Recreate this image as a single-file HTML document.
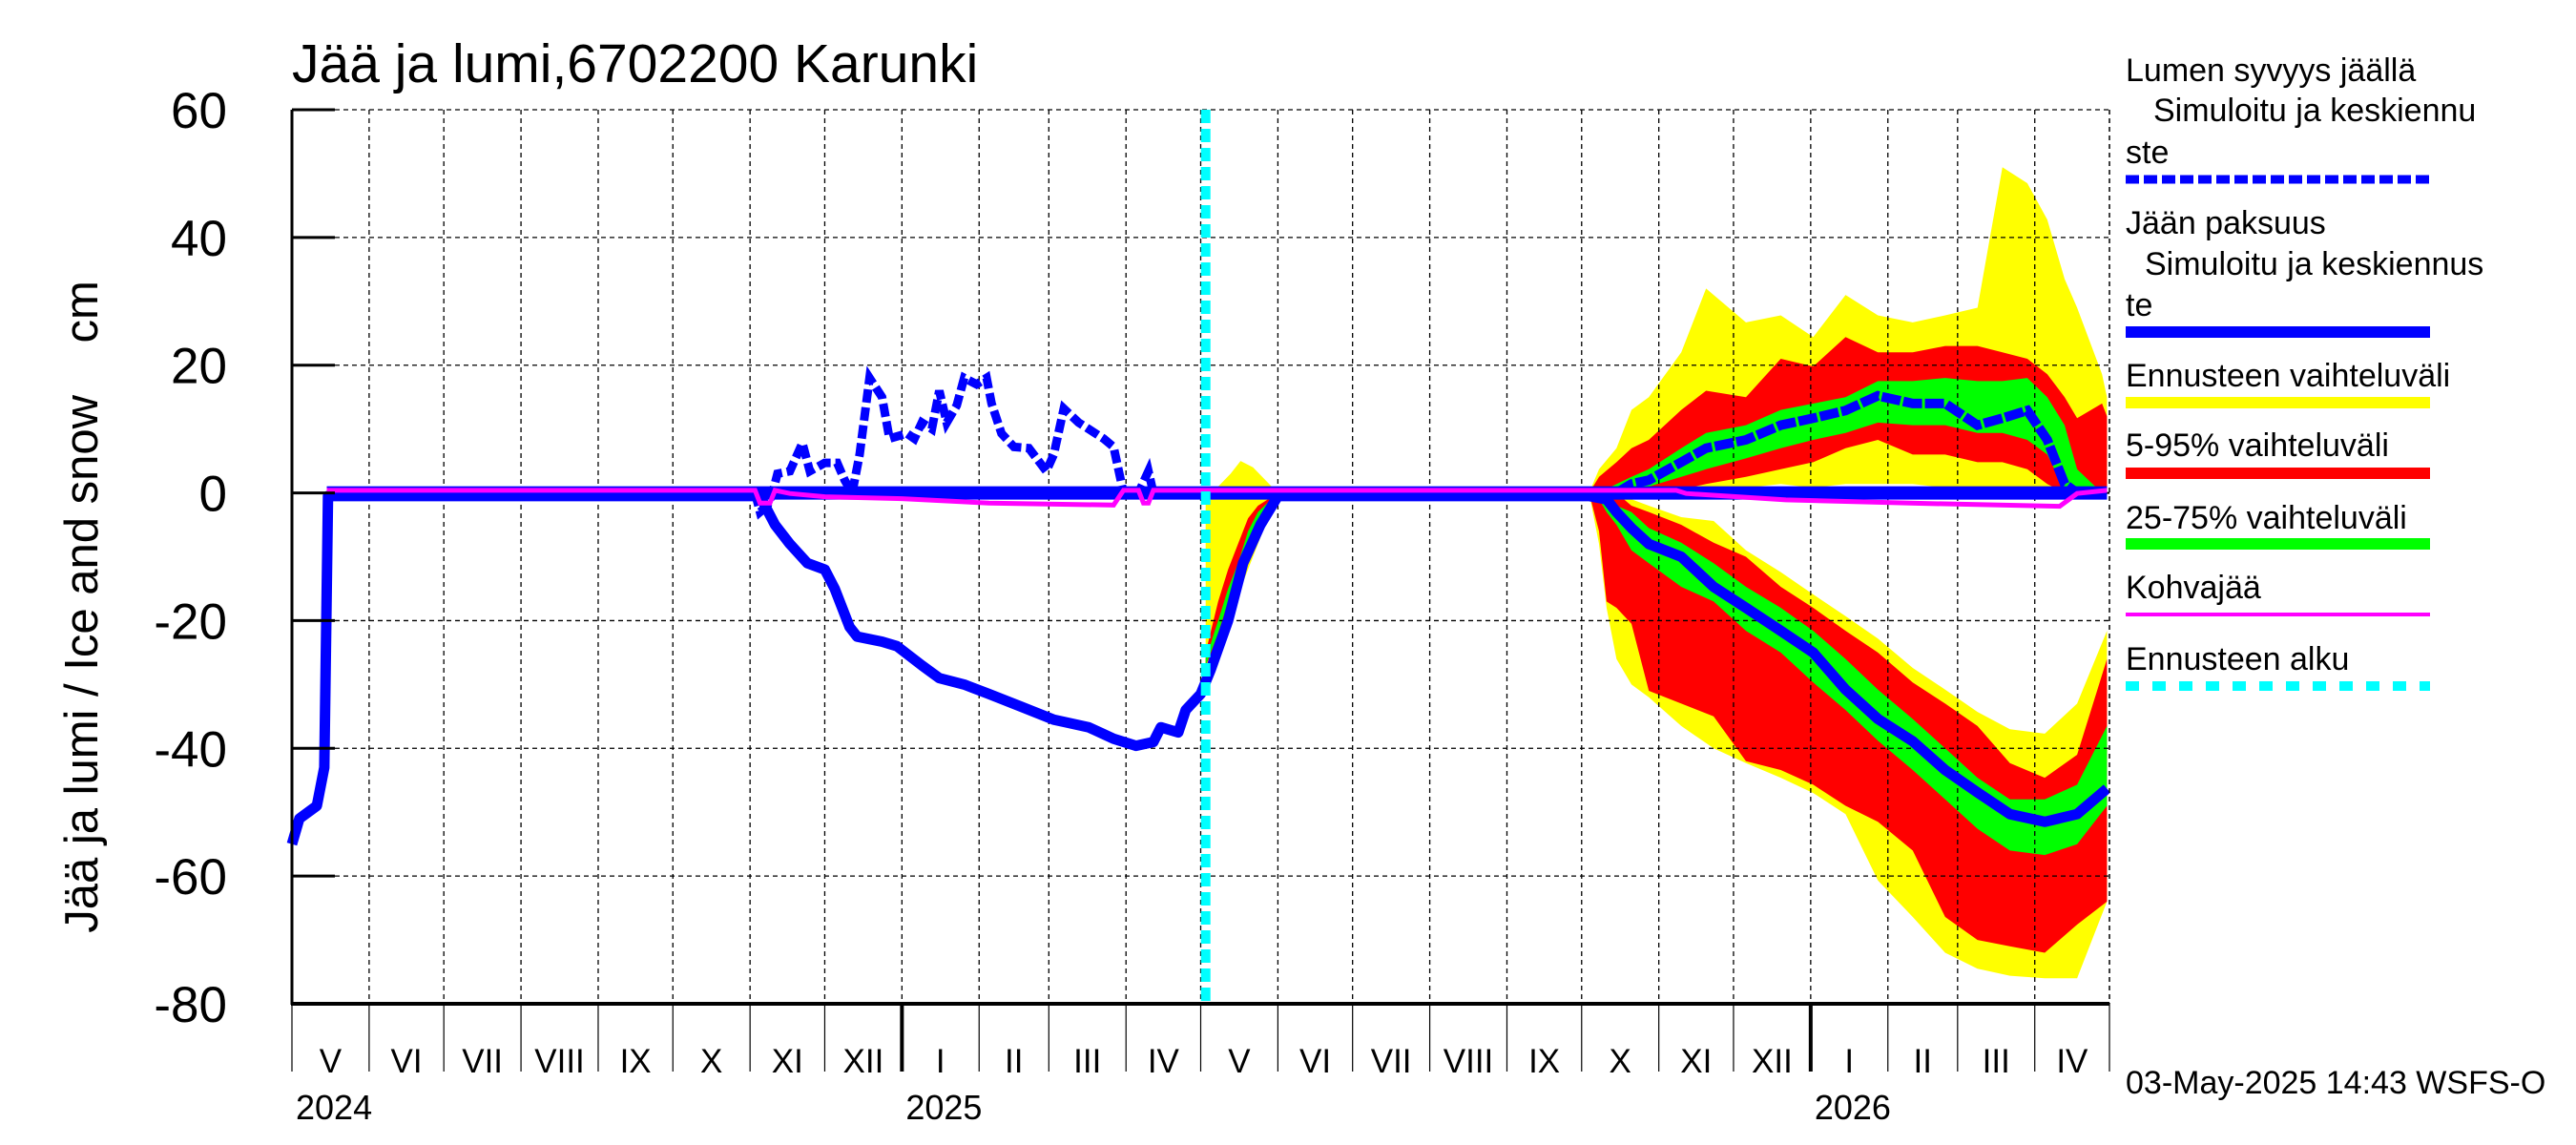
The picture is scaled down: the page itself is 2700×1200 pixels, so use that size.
<!DOCTYPE html>
<html><head><meta charset="utf-8"><style>
html,body{margin:0;padding:0;background:#fff;}
svg{display:block;font-family:"Liberation Sans",sans-serif;}
</style></head><body>
<svg id="chart" width="2700" height="1200" viewBox="0 0 2700 1200">
<g id="bands"></g><g id="grid"></g><g id="lines"></g><g id="axes"></g><g id="legend"></g>
</svg>
<script>
const monthDays=[0,31,61,92,123,153,184,214,245,276,304,335,365,396,426,457,488,518,549,579,610,641,669,700,730];
const monthLabels=["V","VI","VII","VIII","IX","X","XI","XII","I","II","III","IV","V","VI","VII","VIII","IX","X","XI","XII","I","II","III","IV"];
const yearLabels=["2024","2025","2026"];
const yearDays=[0,245,610];
const yTicks=[60,40,20,0,-20,-40,-60,-80];
const forecastStartDay=367;

const iceDays=[0,3,10,13,14.5,188,194,200,207,214,218,224,227,237,243,253,260,270,280,293,306,320,330,339,346,349,356,359,365,369,376,382,389,396,521,528,532,538,545,558,571,584,598,611,624,637,651,664,677,690,704,717,729];
const iceMean=[-55,-51,-49,-43,-0.5,-0.5,-5,-8,-11,-12,-15,-21,-22.5,-23.3,-24,-27,-29,-30,-31.5,-33.5,-35.5,-36.7,-38.5,-39.6,-39,-36.7,-37.5,-34,-31.5,-27.7,-20,-11,-5,-0.5,-0.5,-1,-3,-5.5,-8,-10,-14.7,-18,-21.6,-25,-30.8,-35.4,-38.9,-43.4,-46.9,-50.3,-51.5,-50.3,-46.3];

const snowDays=[186,188,191,193,195,200,205,208,214,219,222,225,228,231,232,237,240,247,250,253,257,260,263,267,270,275,279,281,285,290,296,303,306,310,316,326,330,334,340,344,346];
const snowMean=[0,-3,-2,0,3,3.4,7.8,3.4,4.7,4.7,2,0,6,15,18,15,8.5,9.3,8.5,11,10,16,11,13.7,18,17,18,14,9.3,7.2,7,3.4,6,13.2,11,8.5,7.2,0,0,3.4,0];
const snowFDays=[532,538,545,558,568,584,598,611,624,637,651,664,677,687,697,705,712,717];
const snowFMean=[0,1.4,2,4.8,7,8.3,10.6,11.7,12.9,15.2,14,14,10.6,11.7,12.9,8.3,1.4,0];

const kohvaDays=[14,186,188,192,194,200,214,245,280,330,334,340,342,344,346,556,560,600,650,710,717,729];
const kohva=[0,0,-2,-2,0,-0.5,-1,-1.3,-2,-2.3,0,0,-2,-2,0,0,-0.5,-1.5,-2,-2.5,-0.5,0];

const fDays=[367,372,376,380,384,388,396,521,525,528,532,538,545,558,571,584,598,611,624,637,651,664,677,690,704,717,729];
const iceYlo=[-28,-24,-20,-16,-12,-8,0,0,-8,-18,-26,-30,-32,-36.5,-40,-42.3,-44.6,-47,-50.3,-60.7,-66.4,-72,-74.5,-75.6,-76,-76,-64];
const iceRlo=[-27,-23,-19,-15,-10,-6,0,0,-6,-17,-18,-20.5,-31,-33,-35,-42,-43.4,-45.7,-49,-51.5,-56,-66.4,-70,-71,-72,-67.6,-64];
const iceGlo=[-27,-22,-17,-13,-8,-5,0,0,-1,-3,-5,-9,-11,-14.7,-17,-21.6,-25,-29.7,-34,-38.8,-43.4,-48,-52.6,-56,-56.7,-55,-49];
const iceGhi=[-26,-20,-15,-11,-6,-3,0,0,0,-1,-2,-3,-5.5,-7.8,-11,-14.7,-18,-21.6,-26,-30.8,-35.4,-40,-44.6,-48,-48,-45.7,-36.5];
const iceRhi=[-25,-17,-12,-8,-4,-2,0,0,0,0,0,-2,-3,-5,-7.8,-10,-14.7,-18,-21.6,-25,-29.7,-33,-36.5,-42.3,-44.6,-41,-26];
const iceYhi=[0,0,0,0,0,0,0,0,0,0,0,-1,-2,-3.8,-4.4,-9,-12.4,-15.9,-19.3,-22.8,-27.4,-30.8,-34.3,-37,-37.7,-33,-21.6];

const sDays=[367,372,377,381,386,396,521,525,532,538,545,558,568,584,598,611,624,637,651,664,677,687,697,705,712,717,727,729];
const snowYhi=[0,1,3,5,4,0,0,3.7,7,13,15,22,32,26.7,27.8,24.4,31,27.8,26.7,27.8,29,51,48.5,42.8,33.5,29,18.6,15];
const snowRhi=[0,0,0,0,0,0,0,2.5,4.8,7,8.3,13,16,15,21,19.8,24.4,22,22,23,23,22,21,18.6,15,11.7,14,12];
const snowGhi=[0,0,0,0,0,0,0,0,1.4,2.5,3.7,7,9.4,10.6,13,14,15,17.5,17.5,18,17.5,17.5,18,15,10.6,3.7,0,0];
const snowGlo=[0,0,0,0,0,0,0,0,0,0.5,1,2.5,3.7,5.4,7,8.3,9.4,11,10.6,10.6,9.4,9.4,8.3,6,0.5,0,0,0];
const snowRlo=[0,0,0,0,0,0,0,0,0,0,0,0.5,1.4,2.5,3.7,4.8,7,8.3,6,6,4.8,4.8,3.7,1.4,0,0,0,0];
const snowYlo=[0,0,0,0,0,0,0,0,0,0,0,0,0,0.8,1.4,0.8,1.4,1.4,1.4,0.8,0,0,0,0,0,0,0,0];

const X0=306,X1=2211,Y0=115,Y1=1052;
function X(d){return X0+d*(X1-X0)/730;}
function Y(v){return Y0+(60-v)*(Y1-Y0)/140;}
const NS="http://www.w3.org/2000/svg";
function mk(tag,parent,attrs){const e=document.createElementNS(NS,tag);for(const k in attrs)e.setAttribute(k,attrs[k]);parent.appendChild(e);return e;}
function band(parent,days,lo,hi,color){
  let d="M"+days.map((t,i)=>X(t).toFixed(1)+","+Y(lo[i]).toFixed(1)).join("L");
  for(let i=days.length-1;i>=0;i--)d+="L"+X(days[i]).toFixed(1)+","+Y(hi[i]).toFixed(1);
  return mk("path",parent,{d:d+"Z",fill:color,stroke:"none"});
}
function line(parent,days,vals,attrs){
  const a=Object.assign({d:"M"+days.map((t,i)=>X(t).toFixed(1)+","+Y(vals[i]).toFixed(1)).join("L"),fill:"none"},attrs);
  return mk("path",parent,a);
}
const gB=document.getElementById("bands"),gG=document.getElementById("grid"),gL=document.getElementById("lines"),gA=document.getElementById("axes"),gLeg=document.getElementById("legend");

let p;
p=band(gB,fDays,iceYlo,iceYhi,"#ffff00");


p=band(gB,sDays,snowYlo,snowYhi,"#ffff00");


p=band(gB,fDays,iceRlo,iceRhi,"#ff0000");


p=band(gB,sDays,snowRlo,snowRhi,"#ff0000");


p=band(gB,fDays,iceGlo,iceGhi,"#00ff00");


p=band(gB,sDays,snowGlo,snowGhi,"#00ff00");



monthDays.forEach((d,i)=>{
  if(i===0)return;
  const g=mk("line",gG,{x1:X(d),x2:X(d),y1:Y0,y2:Y1,stroke:"#000","stroke-width":1.3,"stroke-dasharray":"5 4"});
  
  
});
yTicks.forEach(v=>{
  if(v===-80)return;
  const g=mk("line",gG,{x1:X0,x2:X1,y1:Y(v),y2:Y(v),stroke:"#000","stroke-width":1.3,"stroke-dasharray":"5 4"});
  
  
});
p=mk("line",gG,{x1:X(184),x2:X1,y1:Y(0),y2:Y(0),stroke:"#000","stroke-width":2});



p=line(gL,snowDays,snowMean,{stroke:"#0000ff","stroke-width":9,"stroke-dasharray":"14 5"});


p=line(gL,snowFDays,snowFMean,{stroke:"#0000ff","stroke-width":10,"stroke-dasharray":"20 3"});


p=line(gL,[14,729],[0,0],{stroke:"#0000ff","stroke-width":14});


p=line(gL,iceDays,iceMean,{stroke:"#0000ff","stroke-width":11,"stroke-linejoin":"round"});


p=line(gL,kohvaDays,kohva.map(v=>v+0.4),{stroke:"#ff00ff","stroke-width":5});


p=mk("line",gL,{x1:X(forecastStartDay),x2:X(forecastStartDay),y1:Y0,y2:Y1,stroke:"#00ffff","stroke-width":10,"stroke-dasharray":"14 6"});



p=mk("line",gA,{x1:X0,x2:X0,y1:Y0,y2:Y1+1,stroke:"#000","stroke-width":3});


p=mk("line",gA,{x1:X0-1,x2:X1,y1:Y1,y2:Y1,stroke:"#000","stroke-width":4});


p=mk("line",gA,{x1:X1,x2:X1,y1:Y0,y2:Y1,stroke:"#000","stroke-width":1.3,"stroke-dasharray":"5 4"});


yTicks.forEach(v=>{
  const t=mk("line",gA,{x1:X0,x2:X0+45,y1:Y(v),y2:Y(v),stroke:"#000","stroke-width":3});
  
  
  const l=mk("text",gA,{x:238,y:Y(v)+19,"text-anchor":"end","font-size":53});
  l.textContent=String(v);
  
  
});
monthDays.forEach((d,i)=>{
  const isYear=yearDays.includes(d)&&d>0;
  const t=mk("line",gA,{x1:X(d),x2:X(d),y1:Y1,y2:1123,stroke:"#000","stroke-width":isYear?4:1.2});
  
  
  if(i<monthLabels.length){
    const l=mk("text",gA,{x:(X(d)+X(monthDays[i+1]))/2,y:1124,"text-anchor":"middle","font-size":35});
    l.textContent=monthLabels[i];
    
    
  }
});
yearLabels.forEach((y,i)=>{
  const l=mk("text",gA,{x:X(yearDays[i])+4,y:1173,"font-size":36});
  l.textContent=y;
  
  
});
p=mk("text",gA,{x:306,y:86,"font-size":57});
p.textContent="Jää ja lumi,6702200 Karunki";


p=mk("text",gA,{x:0,y:0,"font-size":49,"text-anchor":"middle",transform:"translate(102,636) rotate(-90)",style:"white-space:pre"});
p.textContent="Jää ja lumi / Ice and snow    cm";



const LX=2228,LX2=2547;
const legTexts=[["Lumen syvyys jäällä",LX,85],["Simuloitu ja keskiennu",2257,127],["ste",LX,171],["Jään paksuus",LX,245],["Simuloitu ja keskiennus",2248,288],["te",LX,331],["Ennusteen vaihteluväli",LX,405],["5-95% vaihteluväli",LX,478],["25-75% vaihteluväli",LX,554],["Kohvajää",LX,627],["Ennusteen alku",LX,702],["03-May-2025 14:43 WSFS-O",LX,1146]];
legTexts.forEach(a=>{
  const t=mk("text",gLeg,{x:a[1],y:a[2],"font-size":34});
  t.textContent=a[0];
  
  
});
const legLines=[[188,"#0000ff",9,"14 5"],[348,"#0000ff",12,""],[422,"#ffff00",12,""],[496,"#ff0000",12,""],[570,"#00ff00",12,""],[644,"#ff00ff",4,""],[719,"#00ffff",10,"14 14"]];
legLines.forEach(a=>{
  const attrs={x1:LX,x2:LX2,y1:a[0],y2:a[0],stroke:a[1],"stroke-width":a[2]};
  if(a[3])attrs["stroke-dasharray"]=a[3];
  const l=mk("line",gLeg,attrs);
  
  
});
</script>
</body></html>
